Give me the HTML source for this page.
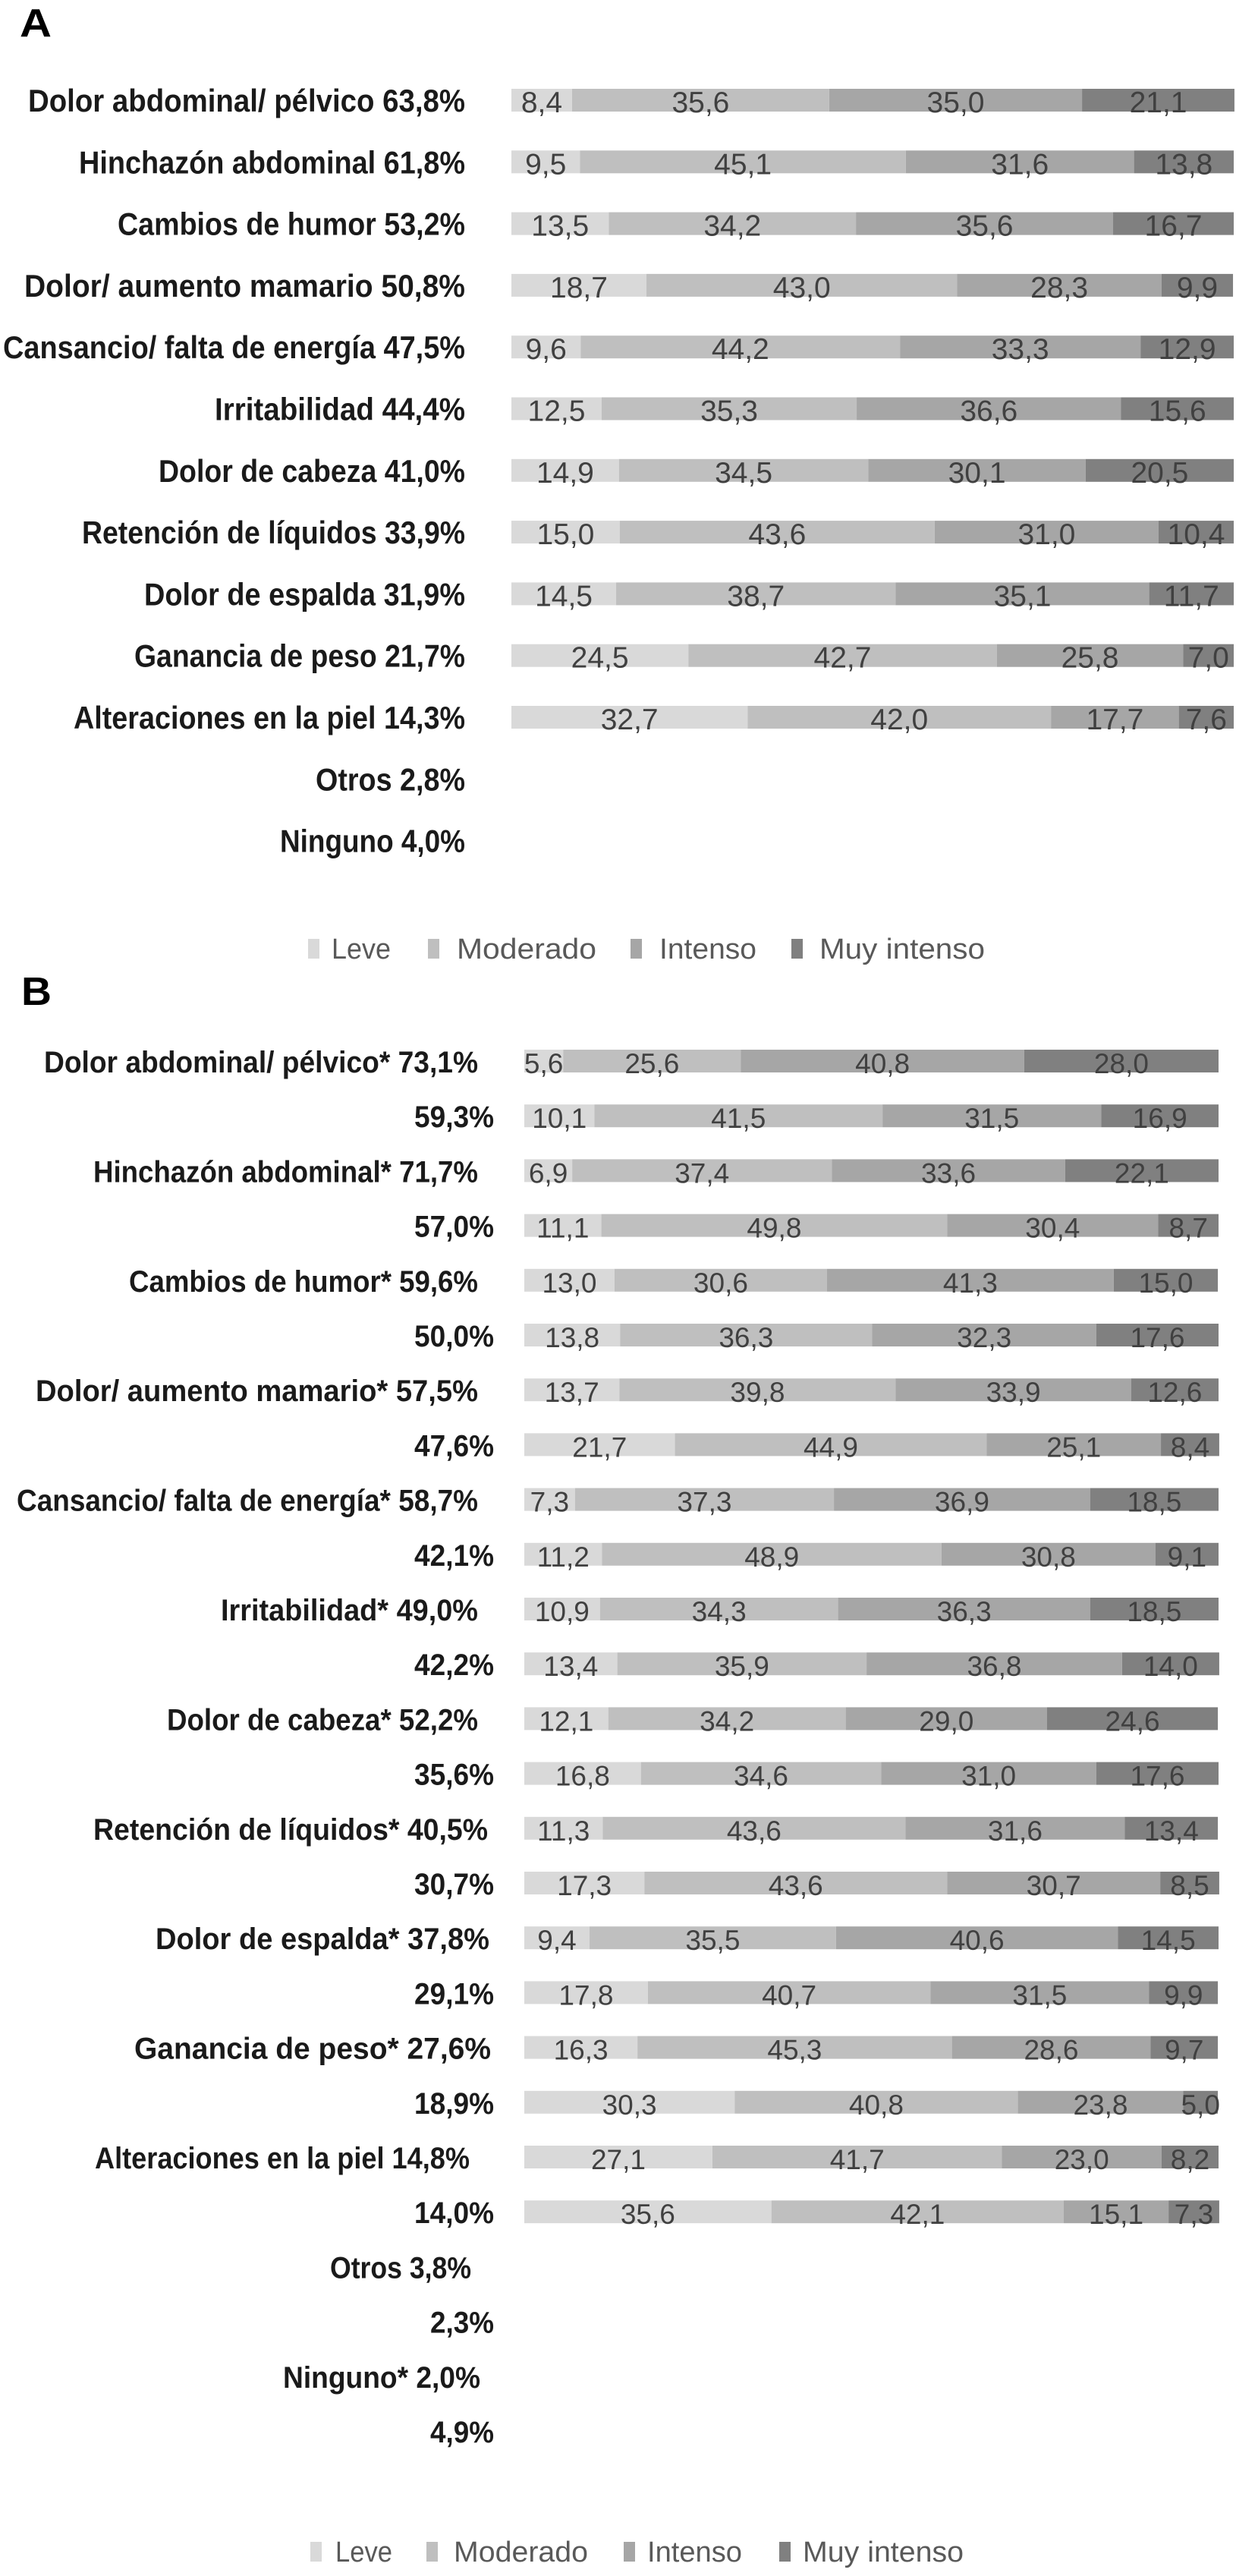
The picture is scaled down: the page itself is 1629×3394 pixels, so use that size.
<!DOCTYPE html>
<html><head><meta charset="utf-8">
<style>
html,body{margin:0;padding:0;background:#fff;}
svg{display:block;}
.lbl{font-family:"Liberation Sans",sans-serif;font-weight:bold;fill:#1a1a1a;}
.val{font-family:"Liberation Sans",sans-serif;fill:#404040;}
.leg{font-family:"Liberation Sans",sans-serif;fill:#595959;}
</style></head>
<body>
<svg id="chart" width="1629" height="3394" viewBox="0 0 1629 3394" xmlns="http://www.w3.org/2000/svg">
<text x="26" y="48" font-family="Liberation Sans" font-weight="bold" font-size="52" textLength="42" lengthAdjust="spacingAndGlyphs">A</text>
<text x="28" y="1324" font-family="Liberation Sans" font-weight="bold" font-size="52" textLength="40" lengthAdjust="spacingAndGlyphs">B</text>
<g id="gA"></g>
<g id="gB"></g>
</svg>
<script>
const seriesNames = ["Leve","Moderado","Intenso","Muy intenso"];
const colors = ["#d9d9d9","#bfbfbf","#a6a6a6","#808080"];

const catsA = ["Dolor abdominal/ pélvico 63,8%","Hinchazón abdominal 61,8%","Cambios de humor 53,2%","Dolor/ aumento mamario 50,8%","Cansancio/ falta de energía 47,5%","Irritabilidad 44,4%","Dolor de cabeza 41,0%","Retención de líquidos 33,9%","Dolor de espalda 31,9%","Ganancia de peso 21,7%","Alteraciones en la piel 14,3%","Otros 2,8%","Ninguno 4,0%"];
const leveA = [8.4,9.5,13.5,18.7,9.6,12.5,14.9,15.0,14.5,24.5,32.7,null,null];
const moderadoA = [35.6,45.1,34.2,43.0,44.2,35.3,34.5,43.6,38.7,42.7,42.0,null,null];
const intensoA = [35.0,31.6,35.6,28.3,33.3,36.6,30.1,31.0,35.1,25.8,17.7,null,null];
const muyA = [21.1,13.8,16.7,9.9,12.9,15.6,20.5,10.4,11.7,7.0,7.6,null,null];

const catsB = ["Dolor abdominal/ pélvico* 73,1%","59,3%","Hinchazón abdominal* 71,7%","57,0%","Cambios de humor* 59,6%","50,0%","Dolor/ aumento mamario* 57,5%","47,6%","Cansancio/ falta de energía* 58,7%","42,1%","Irritabilidad* 49,0%","42,2%","Dolor de cabeza* 52,2%","35,6%","Retención de líquidos* 40,5%","30,7%","Dolor de espalda* 37,8%","29,1%","Ganancia de peso* 27,6%","18,9%","Alteraciones en la piel 14,8%","14,0%","Otros 3,8%","2,3%","Ninguno* 2,0%","4,9%"];
const leveB = [5.6,10.1,6.9,11.1,13.0,13.8,13.7,21.7,7.3,11.2,10.9,13.4,12.1,16.8,11.3,17.3,9.4,17.8,16.3,30.3,27.1,35.6,null,null,null,null];
const moderadoB = [25.6,41.5,37.4,49.8,30.6,36.3,39.8,44.9,37.3,48.9,34.3,35.9,34.2,34.6,43.6,43.6,35.5,40.7,45.3,40.8,41.7,42.1,null,null,null,null];
const intensoB = [40.8,31.5,33.6,30.4,41.3,32.3,33.9,25.1,36.9,30.8,36.3,36.8,29.0,31.0,31.6,30.7,40.6,31.5,28.6,23.8,23.0,15.1,null,null,null,null];
const muyB = [28.0,16.9,22.1,8.7,15.0,17.6,12.6,8.4,18.5,9.1,18.5,14.0,24.6,17.6,13.4,8.5,14.5,9.9,9.7,5.0,8.2,7.3,null,null,null,null];

const NS = "http://www.w3.org/2000/svg";
function mk(tag, attrs, parent){const e=document.createElementNS(NS,tag);for(const k in attrs)e.setAttribute(k,attrs[k]);parent.appendChild(e);return e;}
function fmt(v){return v.toFixed(1).replace('.',',');}

function drawPanel(g, cats, series, opt){
  const xScale = v => opt.x0 + v/100*opt.W;
  const yPos = i => opt.y0 + i*opt.step;
  cats.forEach((c,i)=>{
    const cy = yPos(i);
    const right = opt.rights[i], left = opt.lefts[i];
    const t = mk('text',{x:left,y:cy+15,'font-size':opt.fs,class:'lbl',textLength:right-left,lengthAdjust:'spacingAndGlyphs'},g);
    t.textContent = c;
    
    
    if(series[0][i]==null) return;
    let cum=0;
    series.forEach((arr,s)=>{
      const v=arr[i];
      const x1=xScale(cum), x2=xScale(cum+v);
      const r=mk('rect',{x:x1,y:cy-opt.bh/2,width:x2-x1,height:opt.bh,fill:colors[s]},g);
      
      
      const tv=mk('text',{x:(x1+x2)/2,y:cy+opt.bh/2+1,'text-anchor':'middle','font-size':opt.vfs,class:'val'},g);
      tv.textContent=fmt(v);
      
      
      cum+=v;
    });
  });
  opt.legend.forEach((L,s)=>{
    const r=mk('rect',{x:L[0],y:opt.ly-13,width:15,height:26,fill:colors[s]},g);
    
    
    const t=mk('text',{x:L[1],y:opt.ly+13,'font-size':38,class:'leg',textLength:L[2]-L[1],lengthAdjust:'spacingAndGlyphs'},g);
    t.textContent=seriesNames[s];
    
    
  });
}

const leftsA = [37,104,155,32,4,283,209,108,190,177,97,416,369];
const rightsA = leftsA.map(()=>613);
const leftsB = [58,546,123,546,170,546,47,546,22,546,291,546,220,546,123,546,205,546,177,546,125,546,435,567,373,567];
const rightsB = [630,651,630,651,630,651,630,651,630,651,630,651,630,651,643,651,645,651,647,651,619,651,621,651,633,651];
drawPanel(document.getElementById('gA'), catsA, [leveA,moderadoA,intensoA,muyA], {
  x0:674, W:952, y0:132, step:81.3, bh:30, fs:42, vfs:39, lefts:leftsA, rights:rightsA,
  ly:1250, legend:[[406,437,515],[564,602,786],[831,869,997],[1043,1080,1298]]
});
drawPanel(document.getElementById('gB'), catsB, [leveB,moderadoB,intensoB,muyB], {
  x0:691, W:915, y0:1398, step:72.2, bh:30, fs:40, vfs:37, lefts:leftsB, rights:rightsB,
  ly:3362, legend:[[409,442,517],[562,598,775],[822,853,978],[1027,1058,1270]]
});
</script>
</body></html>
